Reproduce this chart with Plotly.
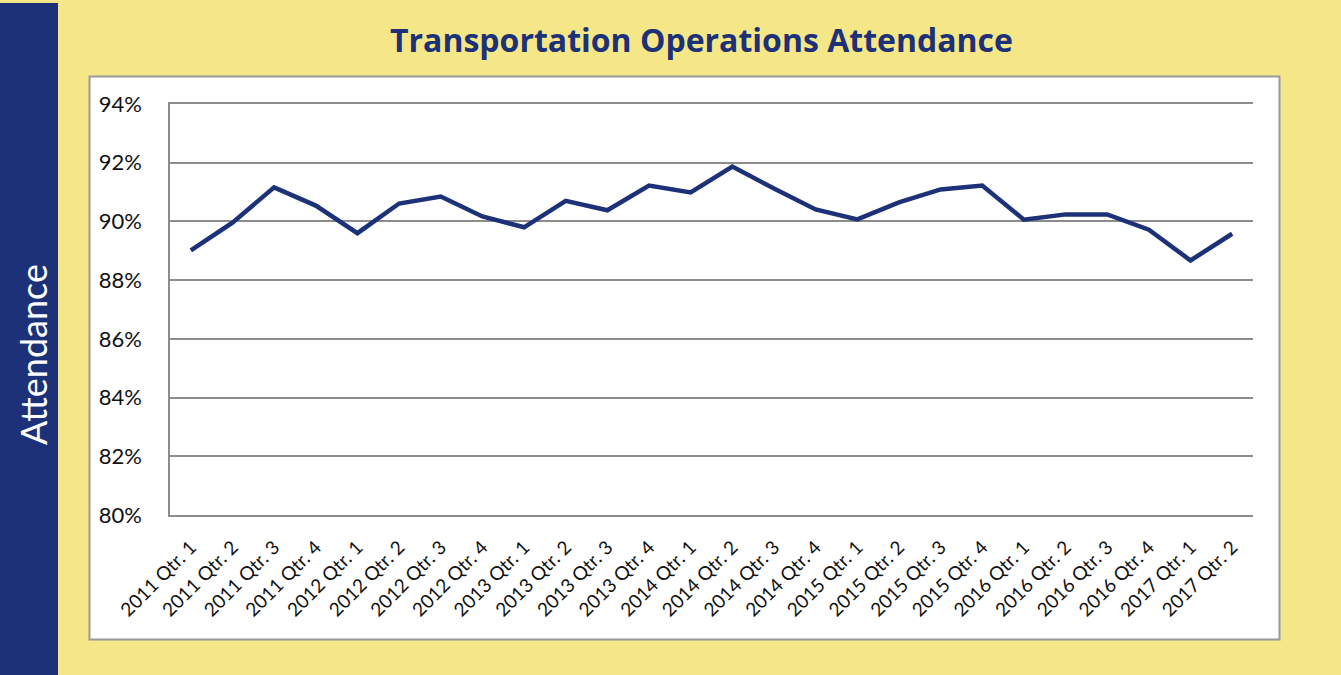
import plotly.graph_objects as go

categories = [
    "2011 Qtr. 1", "2011 Qtr. 2", "2011 Qtr. 3", "2011 Qtr. 4",
    "2012 Qtr. 1", "2012 Qtr. 2", "2012 Qtr. 3", "2012 Qtr. 4",
    "2013 Qtr. 1", "2013 Qtr. 2", "2013 Qtr. 3", "2013 Qtr. 4",
    "2014 Qtr. 1", "2014 Qtr. 2", "2014 Qtr. 3", "2014 Qtr. 4",
    "2015 Qtr. 1", "2015 Qtr. 2", "2015 Qtr. 3", "2015 Qtr. 4",
    "2016 Qtr. 1", "2016 Qtr. 2", "2016 Qtr. 3", "2016 Qtr. 4",
    "2017 Qtr. 1", "2017 Qtr. 2",
]
attendance = [
    0.8901, 0.8996, 0.9116, 0.9054,
    0.8960, 0.9061, 0.9085, 0.9017,
    0.8980, 0.9070, 0.9038, 0.9122,
    0.9099, 0.9187, 0.9112, 0.9041,
    0.9007, 0.9065, 0.9109, 0.9122,
    0.9006, 0.9024, 0.9024, 0.8972,
    0.8867, 0.8958,
]
y_ticks = [0.80, 0.82, 0.84, 0.86, 0.88, 0.90, 0.92, 0.94]

W, H = 1341, 675
L, R, T, B = 170, 1253, 104, 515
DARK = "#1c3178"
YELLOW = "#f5e787"
GRID = "#8c8c8c"


def px_x(p):
    return (p - L) / (R - L)


def px_y(p):
    return (B - p) / (B - T)


fig = go.Figure()
fig.add_trace(go.Scatter(
    x=categories, y=attendance, mode="lines",
    line=dict(color=DARK, width=4.5), hoverinfo="x+y",
))

shapes = [
    dict(type="rect", xref="paper", yref="paper", layer="below",
         x0=px_x(-5), x1=px_x(58), y0=px_y(3), y1=px_y(H + 5),
         fillcolor=DARK, line=dict(width=0)),
    dict(type="rect", xref="paper", yref="paper", layer="below",
         x0=px_x(89.5), x1=px_x(1279.5), y0=px_y(76.5), y1=px_y(639.5),
         fillcolor="white", line=dict(color="#9a9a9a", width=2)),
]

annotations = [
    dict(text="<b>Transportation Operations Attendance</b>", xref="paper", yref="paper",
         x=px_x(701), y=px_y(40), xanchor="center", yanchor="middle", showarrow=False,
         font=dict(family="Open Sans", size=32, color=DARK)),
    dict(text="Attendance", xref="paper", yref="paper",
         x=px_x(33), y=px_y(354), xanchor="center", yanchor="middle", showarrow=False,
         textangle=-90, font=dict(family="Lato", size=36, color="white")),
]

fig.update_layout(
    width=W, height=H,
    margin=dict(l=L, r=W - R, t=T, b=H - B, pad=0),
    paper_bgcolor=YELLOW, plot_bgcolor="white",
    showlegend=False,
    shapes=shapes, annotations=annotations,
    font=dict(family="Lato", color="#111111"),
)
fig.update_xaxes(
    type="category", range=[-0.5, len(categories) - 0.5],
    tickangle=-45, tickfont=dict(size=19, family="Lato", color="#111111"),
    showgrid=False, showline=True, mirror=True, linecolor=GRID, linewidth=1.6,
    ticks="", ticklabelstandoff=12,
)
fig.update_yaxes(
    range=[0.80, 0.94], tickvals=y_ticks, tickformat=".0%",
    tickfont=dict(size=22, family="Lato", color="#111111"),
    showgrid=True, gridcolor=GRID, gridwidth=1.6,
    showline=True, linecolor=GRID, linewidth=1.6, ticks="",
    zeroline=False, ticklabelstandoff=22,
)

fig.write_html("out.html", config={"displayModeBar": False},
               post_script="document.body.style.margin='0px';")
